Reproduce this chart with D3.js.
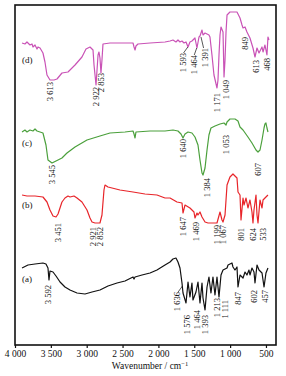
<!DOCTYPE html>
<html>
<head>
<meta charset="utf-8">
<script src="https://cdn.jsdelivr.net/npm/d3@7/dist/d3.min.js"></script>
<style>
  body { margin: 0; background: #fff; }
  text { font-family: 'Liberation Serif', 'DejaVu Serif', serif; }
</style>
</head>
<body>
<div id="chart"></div>
<script>
// spectra as [wavenumber (cm-1), transmittance (a.u., offset stacked)]
const spectrumA = [
  [3902, 77], [3819, 80], [3721, 81], [3610, 82], [3568, 81], [3540, 77], [3526, 65], [3512, 74],
  [3470, 73], [3428, 69], [3372, 63], [3303, 58], [3233, 55], [3135, 52], [3024, 51], [2926, 53],
  [2815, 55], [2703, 59], [2577, 62], [2466, 64], [2354, 68], [2340, 66], [2326, 68], [2229, 70],
  [2117, 72], [2020, 75], [1908, 80], [1838, 83], [1797, 86], [1755, 87], [1727, 83], [1699, 77],
  [1671, 62], [1657, 52], [1615, 42], [1587, 63], [1560, 48], [1532, 62], [1518, 45], [1476, 53],
  [1448, 63], [1420, 42], [1392, 62], [1378, 47], [1350, 35], [1322, 58], [1295, 68], [1267, 52],
  [1239, 68], [1211, 50], [1183, 68], [1155, 48], [1127, 70], [1099, 75], [1043, 77], [1029, 80],
  [974, 82], [960, 78], [932, 75], [904, 78], [890, 58], [862, 70], [820, 67], [792, 73],
  [765, 70], [737, 75], [723, 70], [695, 77], [667, 73], [653, 62], [625, 80], [597, 75],
  [555, 72], [527, 58], [500, 72], [472, 77]
];

const spectrumB = [
  [3902, 150], [3833, 149], [3721, 149], [3610, 148], [3554, 143], [3512, 135], [3470, 129], [3428, 128],
  [3400, 131], [3345, 143], [3303, 147], [3261, 149], [3233, 148], [3177, 149], [3135, 147], [3066, 143],
  [2996, 135], [2954, 127], [2926, 123], [2884, 122], [2815, 122], [2787, 130], [2759, 155], [2745, 160],
  [2703, 158], [2647, 157], [2536, 155], [2354, 153], [2187, 151], [2020, 150], [1908, 147], [1838, 147],
  [1741, 143], [1671, 142], [1657, 132], [1629, 140], [1560, 137], [1504, 133], [1490, 127], [1462, 132],
  [1448, 130], [1420, 133], [1392, 128], [1350, 123], [1308, 122], [1183, 122], [1141, 133], [1113, 125],
  [1099, 123], [1071, 130], [1043, 160], [1002, 168], [960, 171], [932, 169], [904, 167], [890, 153],
  [862, 150], [848, 125], [820, 147], [806, 140], [778, 147], [751, 137], [723, 145], [695, 133],
  [681, 122], [667, 135], [639, 150], [625, 130], [611, 122], [583, 145], [555, 137], [541, 145],
  [514, 147], [472, 150]
];

const spectrumC = [
  [3902, 213], [3861, 215], [3833, 213], [3791, 215], [3749, 214], [3721, 216], [3693, 214], [3651, 213],
  [3610, 212], [3568, 200], [3540, 185], [3484, 182], [3428, 184], [3345, 187], [3275, 192], [3163, 198],
  [2996, 205], [2815, 209], [2675, 212], [2466, 213], [2354, 214], [2340, 211], [2326, 207], [2313, 213],
  [2117, 214], [1908, 214], [1797, 215], [1727, 214], [1685, 211], [1657, 207], [1629, 211], [1587, 213],
  [1532, 212], [1490, 208], [1448, 200], [1420, 185], [1392, 172], [1378, 170], [1350, 177], [1322, 195],
  [1295, 210], [1267, 217], [1211, 219], [1141, 221], [1085, 222], [1057, 220], [1043, 223], [1002, 226],
  [932, 226], [890, 224], [862, 218], [820, 215], [751, 208], [695, 202], [639, 195], [611, 193],
  [583, 195], [555, 205], [527, 217], [514, 221], [500, 222], [486, 217], [472, 213]
];

const spectrumD = [
  [3902, 302], [3861, 301], [3833, 303], [3791, 300], [3763, 301], [3749, 298], [3721, 300], [3693, 296],
  [3679, 298], [3651, 297], [3610, 292], [3582, 283], [3554, 270], [3512, 265], [3456, 265], [3414, 266],
  [3345, 272], [3261, 273], [3163, 280], [3066, 288], [3010, 296], [2954, 298], [2912, 295], [2898, 280],
  [2870, 260], [2856, 275], [2842, 290], [2829, 293], [2815, 287], [2801, 272], [2787, 285], [2773, 301],
  [2675, 302], [2354, 302], [2340, 298], [2326, 295], [2313, 299], [2285, 301], [2117, 302], [1908, 303],
  [1838, 304], [1797, 305], [1755, 303], [1727, 305], [1699, 303], [1671, 304], [1643, 302], [1615, 303],
  [1587, 298], [1560, 303], [1532, 304], [1490, 307], [1462, 297], [1434, 308], [1420, 309], [1392, 315],
  [1378, 310], [1350, 312], [1322, 311], [1295, 310], [1281, 308], [1253, 290], [1225, 270], [1183, 257],
  [1169, 265], [1155, 290], [1141, 310], [1127, 318], [1099, 313], [1085, 268], [1071, 285], [1057, 313],
  [1043, 330], [1002, 333], [904, 333], [862, 327], [834, 320], [820, 317], [792, 318], [765, 313],
  [723, 307], [681, 297], [653, 288], [625, 297], [597, 292], [555, 298], [541, 293], [514, 300],
  [486, 290], [472, 308], [458, 305]
];

// peak labels: [text, wavenumber, value at top of label]
const peaksA = [
  ['3 592', 3540, 60], ['1 636', 1741, 53], ['1 576', 1601, 30], ['1 464', 1462, 35], ['1 393', 1350, 30],
  ['1 213', 1183, 47], ['1 111', 1071, 45], ['847', 890, 53], ['602', 667, 55], ['457', 514, 55]
];
const peaksB = [
  ['3 451', 3400, 122], ['2 921', 2912, 118], ['2 852', 2815, 118], ['1 647', 1657, 128], ['1 469', 1476, 123],
  ['1 199', 1183, 120], ['1 067', 1099, 120], ['801', 848, 117], ['624', 681, 117], ['533', 541, 117]
];
const peaksC = [
  ['3 545', 3484, 180], ['1 640', 1657, 206], ['1 384', 1322, 167], ['1 053', 1057, 210], ['607', 611, 182]
];
const peaksD = [
  ['3 613', 3512, 263], ['2 922', 2870, 258], ['2 853', 2801, 272], ['1 593', 1657, 292], ['1 464', 1504, 290],
  ['1 391', 1350, 297], ['1 171', 1183, 252], ['1 049', 1057, 265], ['849', 792, 308], ['613', 639, 285],
  ['468', 486, 287]
];

// leader lines from label to band: [w1, v1, w2, v2]
const leaders = [
  [1650, 292, 1590, 298], [1500, 290, 1466, 297], [1370, 297, 1406, 308], [1725, 53, 1665, 59]
];

const seriesNames = ['(a)', '(b)', '(c)', '(d)'];
const nameAnchors = [[3902, 63], [3902, 137], [3902, 199], [3902, 282]];
const colors = ['#111111', '#e8252a', '#4ba03c', '#c952b6'];

const xTicks = [4000, 3500, 3000, 2500, 2000, 1500, 1000, 500];

const width = 286;
const height = 376;

const svg = d3.select('#chart')
  .append('svg')
  .attr('width', width)
  .attr('height', height);

const x = d3.scaleLinear().domain([4000, 360]).range([15, 276]);
const y = d3.scaleLinear().domain([0, 340]).range([345, 5]);

const line = d3.line()
  .x(d => x(d[0]))
  .y(d => y(d[1]));

const spectra = [spectrumA, spectrumB, spectrumC, spectrumD];
const peaks = [peaksA, peaksB, peaksC, peaksD];

svg.append('g')
  .selectAll('path')
  .data(spectra)
  .enter()
  .append('path')
  .attr('d', line)
  .attr('fill', 'none')
  .attr('stroke', (d, i) => colors[i])
  .attr('stroke-width', 1.2)
  .attr('stroke-linejoin', 'round');

// series names
svg.append('g')
  .selectAll('text')
  .data(seriesNames)
  .enter()
  .append('text')
  .attr('x', (d, i) => x(nameAnchors[i][0]))
  .attr('y', (d, i) => y(nameAnchors[i][1]))
  .style('font-size', '9px')
  .attr('fill', '#111')
  .text(d => d);

// band labels, rotated
peaks.forEach(list => {
  svg.append('g')
    .selectAll('text')
    .data(list)
    .enter()
    .append('text')
    .attr('transform', d => `translate(${x(d[1])},${y(d[2])}) rotate(-90)`)
    .attr('text-anchor', 'end')
    .attr('dy', '0.35em')
    .style('font-size', '8.5px')
    .attr('fill', '#111')
    .text(d => d[0]);
});

svg.append('g')
  .selectAll('line')
  .data(leaders)
  .enter()
  .append('line')
  .attr('x1', d => x(d[0]))
  .attr('y1', d => y(d[1]))
  .attr('x2', d => x(d[2]))
  .attr('y2', d => y(d[3]))
  .attr('stroke', '#111')
  .attr('stroke-width', 0.7);

// axis
const xAxis = d3.axisBottom(x)
  .tickValues(xTicks)
  .tickSize(3)
  .tickPadding(2)
  .tickSizeOuter(0)
  .tickFormat(d => d3.format(',')(d).replace(',', ' '));

const gx = svg.append('g')
  .attr('transform', `translate(0,${y(0)})`)
  .call(xAxis);
gx.select('.domain').remove();
gx.selectAll('line').attr('stroke', '#111').attr('stroke-width', 1.2);
gx.selectAll('text')
  .attr('dy', '0.71em')
  .style('font-size', '9.5px')
  .style('font-family', "'Liberation Serif', serif")
  .attr('fill', '#111');

// frame
svg.append('rect')
  .attr('x', x(4000))
  .attr('y', y(340))
  .attr('width', x(360) - x(4000))
  .attr('height', y(0) - y(340))
  .attr('fill', 'none')
  .attr('stroke', '#111')
  .attr('stroke-width', 1.6);

const title = svg.append('text')
  .attr('x', 150)
  .attr('y', 369)
  .attr('text-anchor', 'middle')
  .style('font-size', '9.5px')
  .attr('fill', '#111');
title.append('tspan').text('Wavenumber / cm');
title.append('tspan')
  .attr('dy', '-0.4em')
  .style('font-size', '6.5px')
  .text('−1');
</script>
</body>
</html>
